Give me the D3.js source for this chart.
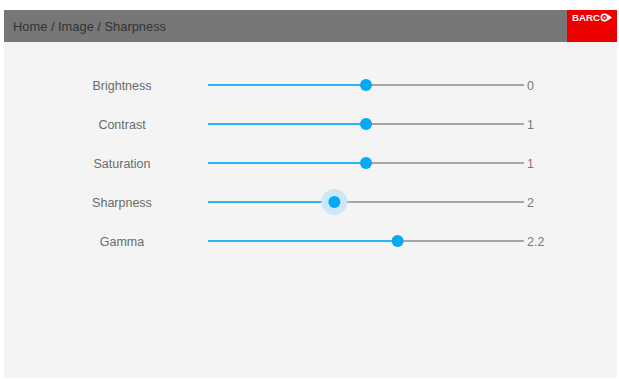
<!DOCTYPE html>
<html>
<head>
<meta charset="utf-8">
<script src="https://cdn.jsdelivr.net/npm/d3@7"></script>
<style>
  body { margin: 0; background: #fff; }
  svg { display: block; font-family: "Liberation Sans", Arial, sans-serif; }
</style>
</head>
<body>
<div id="chart"></div>
<script>
// Width and height
var chart_width  = 619;
var chart_height = 379;

// Data
var breadcrumb = "Home / Image / Sharpness";
var labels     = [ "Brightness", "Contrast", "Saturation", "Sharpness", "Gamma" ];
var values     = [ 0, 1, 1, 2, 2.2 ];
var valueText  = [ "0", "1", "1", "2", "2.2" ];
var mins       = [ -1, 0, 0, 0, 1 ];
var maxs       = [ 1, 2, 2, 5, 3 ];
var focused    = "Sharpness";

var blue     = '#03a9f4';
var grayLine = '#a6a6a6';

var svg = d3.select("#chart")
    .append("svg")
    .attr("width", chart_width)
    .attr("height", chart_height);

// panel
svg.append("rect")
    .attr("x", 4).attr("y", 10)
    .attr("width", 613).attr("height", 368)
    .attr("fill", "#f4f4f4");

// header
svg.append("rect")
    .attr("x", 4).attr("y", 10)
    .attr("width", 613).attr("height", 32)
    .attr("fill", "#777777");

svg.append("text")
    .attr("x", 13).attr("y", 30.5)
    .attr("font-size", 12.8)
    .attr("fill", "#333333")
    .attr("textLength", 153)
    .attr("lengthAdjust", "spacingAndGlyphs")
    .text(breadcrumb);

// logo
var logo = svg.append("g");
logo.append("rect")
    .attr("x", 567).attr("y", 10)
    .attr("width", 50).attr("height", 32)
    .attr("fill", "#ee0000");
logo.append("text")
    .attr("x", 572).attr("y", 21)
    .attr("font-size", 9.5)
    .attr("font-weight", "bold")
    .attr("fill", "#fff")
    .attr("textLength", 28)
    .attr("lengthAdjust", "spacingAndGlyphs")
    .text("BARC");
logo.append("circle")
    .attr("cx", 604.5).attr("cy", 17.5).attr("r", 3.2)
    .attr("fill", "none").attr("stroke", "#fff").attr("stroke-width", 1.6);
logo.append("circle")
    .attr("cx", 604.5).attr("cy", 17.5).attr("r", 1)
    .attr("fill", "#fff");
logo.append("path")
    .attr("d", "M608,14.8 L612,17.5 L608,20.2 Z")
    .attr("fill", "#fff");

// rows
var y = d3.scalePoint()
    .domain(labels)
    .range([ 85, 241 ]);

var trackX0 = 208, trackX1 = 524;

var rows = svg.selectAll("g.row")
    .data(labels)
    .enter()
    .append("g")
    .attr("class", "row")
    .attr("transform", function(d){ return "translate(0," + y(d) + ")"; });

rows.append("text")
    .attr("x", 122)
    .attr("y", 4.5)
    .attr("text-anchor", "middle")
    .attr("font-size", 12.5)
    .attr("fill", "#6b6b6b")
    .text(function(d){ return d; });

rows.each(function(d, i){
    var g = d3.select(this);
    var x = d3.scaleLinear()
        .domain([ mins[i], maxs[i] ])
        .range([ trackX0, trackX1 ]);
    var px = x(values[i]);

    g.append("line")
        .attr("x1", px).attr("x2", trackX1)
        .attr("stroke", grayLine).attr("stroke-width", 2);
    g.append("line")
        .attr("x1", trackX0).attr("x2", px)
        .attr("stroke", "#29b6f6").attr("stroke-width", 2);

    if (d === focused) {
        g.append("circle")
            .attr("cx", px).attr("r", 13)
            .attr("fill", "#cce8f7");
    }
    g.append("circle")
        .attr("cx", px).attr("r", 6)
        .attr("fill", blue);

    g.append("text")
        .attr("x", 527)
        .attr("y", 4.5)
        .attr("font-size", 12.5)
        .attr("fill", "#7a7a7a")
        .text(valueText[i]);
});
</script>
</body>
</html>
